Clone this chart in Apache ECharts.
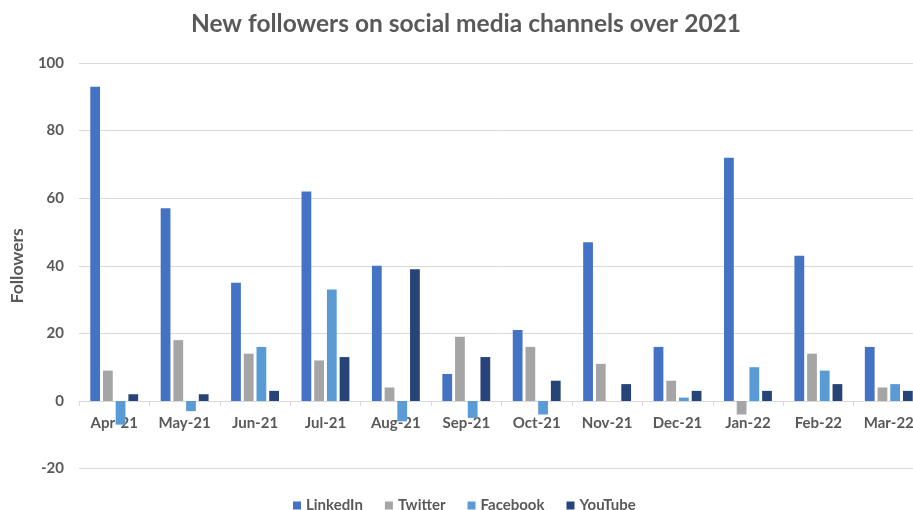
<!DOCTYPE html>
<html>
<head>
<meta charset="utf-8">
<script src="https://cdn.jsdelivr.net/npm/echarts@6/dist/echarts.min.js"></script>
<style>html,body{margin:0;padding:0;background:#fff;overflow:hidden;width:913px;height:510px;}#c{width:930px;height:510px;}</style>
</head>
<body>
<div id="c"></div>
<script>
const categories = ['Apr-21','May-21','Jun-21','Jul-21','Aug-21','Sep-21','Oct-21','Nov-21','Dec-21','Jan-22','Feb-22','Mar-22'];
const linkedin = [93, 57, 35, 62, 40, 8, 21, 47, 16, 72, 43, 16];
const twitter  = [9, 18, 14, 12, 4, 19, 16, 11, 6, -4, 14, 4];
const facebook = [-7, -3, 16, 33, -6, -5, -4, 0, 1, 10, 9, 5];
const youtube  = [2, 2, 3, 13, 39, 13, 6, 5, 3, 3, 5, 3];
const seriesNames = ['LinkedIn','Twitter','Facebook','YouTube'];
const yTicks = {min: -20, max: 100, interval: 20};

const FONT = 'Lato';
const TXT = '#595959';
const colors = ['#4472C4','#A5A5A5','#5B9BD5','#264478'];
const chart = echarts.init(document.getElementById('c'), null, {renderer:'canvas'});
const data = [linkedin, twitter, facebook, youtube];
const gridTop = 63, gridH = 405.6;
// offset to lift the category axis from the grid bottom (-20) up to the zero line
const zeroOffset = -gridH * (0 - yTicks.min) / (yTicks.max - yTicks.min);
chart.setOption({
  animation: false,
  color: colors,
  title: {
    text: 'New followers on social media channels over 2021',
    left: 461, top: 7, textAlign: 'center',
    textStyle: {fontFamily: FONT, fontSize: 24.5, fontWeight: 'bold', color: TXT}
  },
  legend: {
    data: seriesNames,
    left: 288, top: 493,
    icon: 'rect', itemWidth: 8, itemHeight: 8, itemGap: 22,
    textStyle: {fontFamily: FONT, fontSize: 15, fontWeight: 'bold', color: TXT}
  },
  grid: {left: 77, top: gridTop, width: 847, height: gridH, containLabel: false},
  xAxis: {
    type: 'category', data: categories,
    offset: zeroOffset,
    axisLine: {onZero: false, lineStyle: {color: '#d9d9d9', width: 1}},
    axisTick: {show: true, length: 5, lineStyle: {color: '#d9d9d9'}},
    axisLabel: {margin: 15, fontFamily: FONT, fontSize: 15, fontWeight: 'bold', color: TXT, interval: 0}
  },
  yAxis: {
    type: 'value', min: yTicks.min, max: yTicks.max, interval: yTicks.interval,
    name: 'Followers', nameLocation: 'middle', nameGap: 53, nameRotate: 90,
    nameTextStyle: {fontFamily: FONT, fontSize: 17.5, fontWeight: 'bold', color: TXT},
    axisLine: {show: false}, axisTick: {show: false},
    axisLabel: {margin: 15, fontFamily: FONT, fontSize: 15, fontWeight: 'bold', color: TXT},
    splitLine: {lineStyle: {color: '#d9d9d9', width: 1}}
  },
  series: seriesNames.map((n, i) => ({
    name: n, type: 'bar', data: data[i],
    barGap: '30%', barCategoryGap: '32%'
  }))
});
</script>
</body>
</html>
